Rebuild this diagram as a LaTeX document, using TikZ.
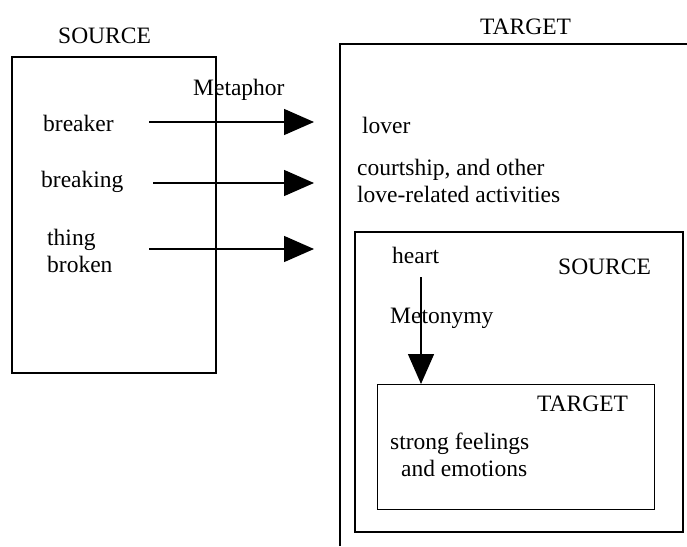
\documentclass[tikz,border=0pt]{standalone}
\usepackage{fontspec}
\setmainfont{Liberation Serif}
\usetikzlibrary{arrows.meta}
\begin{document}
\begin{tikzpicture}[x=1pt,y=-1pt,
  box/.style={draw,line width=1.4pt},
  lbl/.style={inner sep=0pt,anchor=west,align=left,font=\fontsize{23.5}{27}\selectfont},
  bigarrow/.style={line width=1.4pt,-{Triangle[length=30pt,width=26pt]}}]
\useasboundingbox (0,0) rectangle (687,546);
% boxes
\draw[box] (12,57) rectangle (216,373);
\draw[box] (340,546) -- (340,44) -- (687,44);
\draw[box] (355,232) rectangle (683,532);
\node[box,inner sep=0pt,minimum width=277pt,minimum height=125pt,anchor=north west] (tgt2) at (377,384) {};
% labels
\node[lbl] (src) at (58,36) {SOURCE};
\node[lbl] (tgt) at (480,27) {TARGET};
\node[lbl] (metaphor) at (193,90) {Metaphor};
\node[lbl] (breaker) at (43,123) {breaker};
\node[lbl] (breaking) at (41,182) {breaking};
\node[lbl] (thing) at (47,251) {thing\\broken};
\node[lbl] (lover) at (362,125) {lover};
\node[lbl] (court) at (357,181) {courtship, and other\\love-related activities};
\node[lbl] (heart) at (392,255) {heart};
\node[lbl] (src2) at (558,267) {SOURCE};
\node[lbl] (metonymy) at (390,318) {Metonymy};
\node[lbl] (tgt2lbl) at (537,404) {TARGET};
\node[lbl] (feel) at (390,455) {strong feelings\\\hspace*{11pt}and emotions};
% arrows
\coordinate (a1s) at (149,122); \coordinate (a1e) at (314,122);
\coordinate (a2s) at (153,183); \coordinate (a2e) at (314,183);
\coordinate (a3s) at (149,249); \coordinate (a3e) at (314,249);
\draw[bigarrow] (a1s) -- (a1e);
\draw[bigarrow] (a2s) -- (a2e);
\draw[bigarrow] (a3s) -- (a3e);
\coordinate (hs) at (421,277);
\draw[bigarrow] (hs) -- (hs |- tgt2.north);
\end{tikzpicture}
\end{document}
